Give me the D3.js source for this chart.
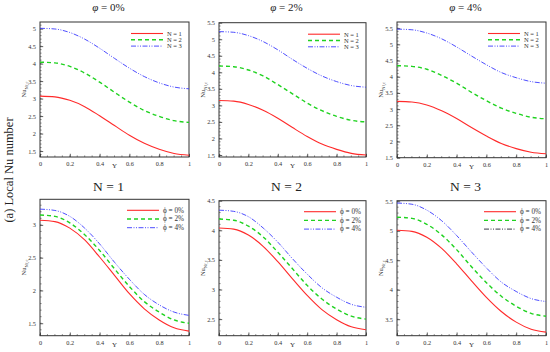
<!DOCTYPE html>
<html>
<head>
<meta charset="utf-8">
<script src="https://cdn.jsdelivr.net/npm/d3@7"></script>
<style>
  body { margin: 0; background: #fff; }
  svg { display: block; font-family: "Liberation Serif", "DejaVu Serif", serif; }
</style>
</head>
<body>
<svg id="chart" width="550" height="352"></svg>
<script>
// Y positions along the channel
const yPos = [0, 0.1, 0.2, 0.3, 0.4, 0.5, 0.6, 0.7, 0.8, 0.9, 1];

// local Nu
const nuN1phi0 = [3.07, 3.05, 2.95, 2.77, 2.51, 2.23, 1.95, 1.72, 1.55, 1.43, 1.38];
const nuN1phi2 = [3.15, 3.13, 3.03, 2.85, 2.61, 2.33, 2.06, 1.83, 1.67, 1.55, 1.50];
const nuN1phi4 = [3.24, 3.22, 3.13, 2.95, 2.71, 2.43, 2.17, 1.94, 1.78, 1.67, 1.62];
const nuN2phi0 = [4.04, 4.02, 3.92, 3.73, 3.47, 3.18, 2.90, 2.66, 2.49, 2.37, 2.32];
const nuN2phi2 = [4.19, 4.17, 4.07, 3.89, 3.63, 3.35, 3.07, 2.84, 2.67, 2.55, 2.50];
const nuN2phi4 = [4.34, 4.32, 4.23, 4.04, 3.80, 3.52, 3.26, 3.03, 2.87, 2.75, 2.70];
const nuN3phi0 = [5.01, 4.99, 4.89, 4.70, 4.44, 4.15, 3.87, 3.63, 3.45, 3.33, 3.28];
const nuN3phi2 = [5.23, 5.21, 5.11, 4.93, 4.68, 4.39, 4.12, 3.89, 3.72, 3.60, 3.55];
const nuN3phi4 = [5.47, 5.45, 5.35, 5.17, 4.92, 4.64, 4.37, 4.13, 3.97, 3.85, 3.80];

const topTitles = ["= 0%", "= 2%", "= 4%"];
const bottomTitles = ["N = 1", "N = 2", "N = 3"];
const nLabels = ["N = 1", "N = 2", "N = 3"];
const phiLabels = ["\u03D5 = 0%", "\u03D5 = 2%", "\u03D5 = 4%"];
const xTicks = [0, 0.2, 0.4, 0.6, 0.8, 1];

// y ranges of each panel
const yDomains = [[1.33, 5.19], [1.44, 5.5], [1.5, 5.69], [1.31, 3.39], [2.22, 4.5], [3.22, 5.51]];
const yTicks = [
  [1.5, 2, 2.5, 3, 3.5, 4, 4.5, 5],
  [1.5, 2, 2.5, 3, 3.5, 4, 4.5, 5, 5.5],
  [1.5, 2, 2.5, 3, 3.5, 4, 4.5, 5, 5.5],
  [1.5, 2, 2.5, 3],
  [2.5, 3, 3.5, 4, 4.5],
  [3.5, 4, 4.5, 5, 5.5]
];

const seriesTop = [
  [nuN1phi0, nuN2phi0, nuN3phi0],
  [nuN1phi2, nuN2phi2, nuN3phi2],
  [nuN1phi4, nuN2phi4, nuN3phi4]
];
const seriesBottom = [
  [nuN1phi0, nuN1phi2, nuN1phi4],
  [nuN2phi0, nuN2phi2, nuN2phi4],
  [nuN3phi0, nuN3phi2, nuN3phi4]
];

const styles = [
  { color: "#ff2a2a", dash: null, width: 1.1 },
  { color: "#1fd21f", dash: "4,3", width: 1.4 },
  { color: "#3a3aff", dash: "5,1.5,1,1.5,1,1.5", width: 0.9 }
];

const boxes = [
  { x0: 40, x1: 189, y0: 22, y1: 157 },
  { x0: 219, x1: 366, y0: 22.7, y1: 157 },
  { x0: 397, x1: 546, y0: 22, y1: 157.7 },
  { x0: 40, x1: 189, y0: 199.3, y1: 335.7 },
  { x0: 219, x1: 366, y0: 200.7, y1: 335.7 },
  { x0: 397, x1: 546, y0: 200.7, y1: 335.7 }
];

const svg = d3.select("#chart");

// big rotated label on the left
svg.append("text")
  .attr("transform", "translate(13,170) rotate(-90)")
  .attr("text-anchor", "middle")
  .attr("font-size", 12.5)
  .attr("fill", "#222")
  .text("(a) Local Nu number");

function drawPanel(i, series, labels, title, isTop) {
  const b = boxes[i];
  const x = d3.scaleLinear().domain([0, 1]).range([b.x0, b.x1]);
  const y = d3.scaleLinear().domain(yDomains[i]).range([b.y1, b.y0]);
  const g = svg.append("g");

  // title
  const tt = g.append("text")
    .attr("x", (b.x0 + b.x1) / 2 - 6)
    .attr("y", isTop ? 11 : 191)
    .attr("text-anchor", "middle")
    .attr("font-size", isTop ? 11 : 13.5)
    .attr("fill", "#222");
  if (isTop) {
    tt.append("tspan").attr("font-style", "italic").text("\u03C6 ");
    tt.append("tspan").text(title);
  } else {
    tt.text(title);
  }

  // minor ticks
  const xMinor = d3.range(0, 1.0001, 0.05);
  g.selectAll(".xm").data(xMinor).enter().append("line")
    .attr("x1", d => x(d)).attr("x2", d => x(d))
    .attr("y1", b.y1).attr("y2", b.y1 - 1.6)
    .attr("stroke", "#444").attr("stroke-width", 0.6);
  const yd = yDomains[i];
  const yMinor = d3.range(Math.ceil(yd[0] * 10) / 10, yd[1], 0.1);
  g.selectAll(".ym").data(yMinor).enter().append("line")
    .attr("x1", b.x0).attr("x2", b.x0 + 1.6)
    .attr("y1", d => y(d)).attr("y2", d => y(d))
    .attr("stroke", "#444").attr("stroke-width", 0.6);

  // axes with inward ticks
  const xAxis = d3.axisBottom(x).tickValues(xTicks).tickSize(-3.2).tickPadding(5)
    .tickFormat(d => d3.format("")(d));
  const yAxis = d3.axisLeft(y).tickValues(yTicks[i]).tickSize(-3.2).tickPadding(4)
    .tickFormat(d => d3.format("")(d));
  const gx = g.append("g").attr("transform", `translate(0,${b.y1})`).call(xAxis);
  const gy = g.append("g").attr("transform", `translate(${b.x0},0)`).call(yAxis);
  [gx, gy].forEach(a => {
    a.select(".domain").remove();
    a.selectAll("line").attr("stroke", "#333").attr("stroke-width", 0.8);
    a.selectAll("text").attr("font-size", 6.3).attr("fill", "#333")
      .attr("font-family", "Liberation Serif, serif");
  });

  // frame
  g.append("rect")
    .attr("x", b.x0).attr("y", b.y0)
    .attr("width", b.x1 - b.x0).attr("height", b.y1 - b.y0)
    .attr("fill", "none").attr("stroke", "#333").attr("stroke-width", 1);

  // axis labels
  g.append("text")
    .attr("x", (b.x0 + b.x1) / 2).attr("y", b.y1 + 11)
    .attr("text-anchor", "middle").attr("font-size", 7).attr("fill", "#333")
    .text("Y");
  const yl = g.append("text")
    .attr("transform", `translate(${b.x0 - 14},${(b.y0 + b.y1) / 2}) rotate(-90)`)
    .attr("text-anchor", "middle").attr("font-size", 6.5).attr("fill", "#333");
  yl.append("tspan").text("Nu");
  yl.append("tspan").attr("font-size", 4.5).attr("dy", 1.5).text("Nf,c");

  // curves
  const line = d3.line()
    .x((d, k) => x(yPos[k]))
    .y(d => y(d))
    .curve(d3.curveMonotoneX);
  series.forEach((s, k) => {
    g.append("path")
      .attr("d", line(s))
      .attr("fill", "none")
      .attr("stroke", styles[k].color)
      .attr("stroke-width", styles[k].width)
      .attr("stroke-dasharray", styles[k].dash);
  });

  // legend
  const lx0 = b.x1 - (isTop ? 58 : 62);
  const lx1 = lx0 + 32;
  const ly = isTop ? b.y0 + 11.5 : b.y0 + 11;
  const step = isTop ? 6.3 : 8.7;
  labels.forEach((t, k) => {
    const yy = ly + k * step;
    g.append("line")
      .attr("x1", lx0).attr("x2", lx1).attr("y1", yy).attr("y2", yy)
      .attr("stroke", (i === 5 && k === 2) ? "#223" : styles[k].color)
      .attr("stroke-width", styles[k].width)
      .attr("stroke-dasharray", styles[k].dash);
    g.append("text")
      .attr("x", lx1 + 4).attr("y", yy + 2.3)
      .attr("font-size", isTop ? 6.5 : 7.2).attr("fill", "#333")
      .text(t);
  });
}

for (let i = 0; i < 3; i++) {
  drawPanel(i, seriesTop[i], nLabels, topTitles[i], true);
}
for (let i = 0; i < 3; i++) {
  drawPanel(i + 3, seriesBottom[i], phiLabels, bottomTitles[i], false);
}
</script>
</body>
</html>
